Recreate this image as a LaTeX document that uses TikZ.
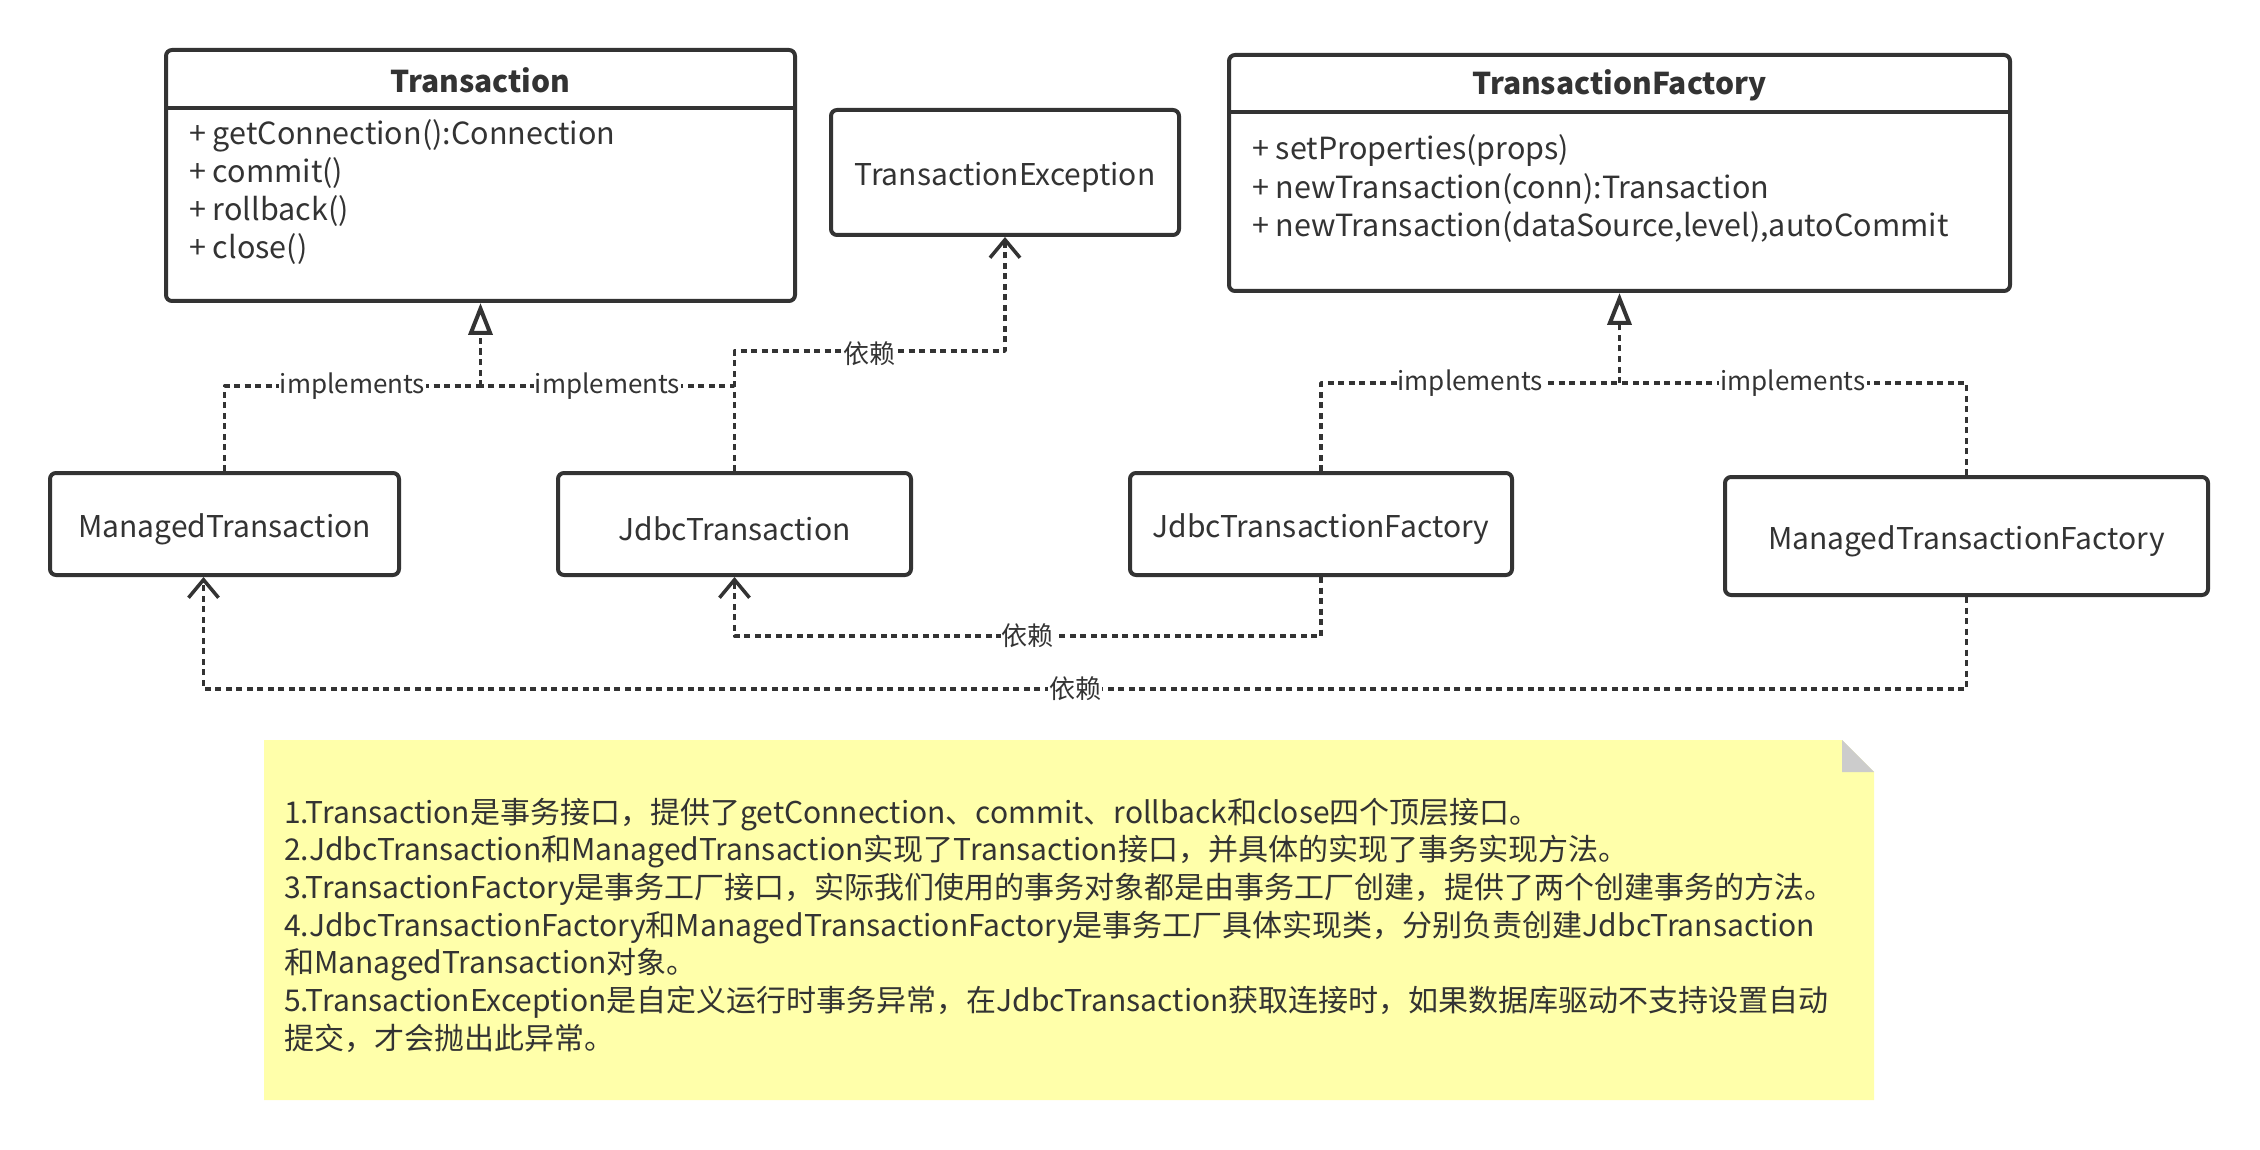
\documentclass[tikz,border=0pt]{standalone}
\usepackage{fontspec}
\setmainfont{Noto Sans CJK SC}
\usetikzlibrary{arrows.meta}

\definecolor{ink}{HTML}{333333}
\definecolor{notefill}{HTML}{FFFFAA}
\definecolor{foldgray}{HTML}{CCCCCC}

\begin{document}
\begin{tikzpicture}[x=1pt, y=-1pt, line join=round,
  classbox/.style={draw=ink, line width=4pt, rounded corners=6pt, inner sep=0pt, fill=white},
  cname/.style={inner sep=0pt, yshift=-5pt, text=ink, font=\fontsize{30}{36}\selectfont},
  ctitle/.style={inner sep=0pt, text=ink, font=\fontsize{30}{36}\selectfont\bfseries},
  member/.style={anchor=west, inner sep=0pt, text=ink, text height=22pt, text depth=6pt, font=\fontsize{30.5}{36}\selectfont},
  notetext/.style={anchor=west, inner sep=0pt, text=ink, text height=22pt, text depth=6pt, font=\fontsize{30}{36}\selectfont},
  lbl/.style={fill=white, inner sep=1pt, text=ink, font=\fontsize{26}{30}\selectfont},
  implem/.style={draw=ink, line width=3.5pt, dash pattern=on 6pt off 4.5pt},
  depend/.style={draw=ink, line width=3.5pt, dash pattern=on 6pt off 4.5pt,
    -{Straight Barb[length=18pt, width=30pt, line width=3.5pt]}},
  realize/.style={-{Triangle[open, length=32pt, width=24pt, line width=4pt, fill=white]}}]

  %% ==== interfaces ====
  \node[classbox, minimum width=629pt, minimum height=251pt] (trans) at (480.5,175.5) {};
  \draw[ink, line width=4pt] (trans.west |- 0,108) -- (trans.east |- 0,108);
  \node[ctitle] (transname) at (480.5,80) {Transaction};
  \foreach \txt [count=\i] in {{+ getConnection():Connection}, {+ commit()}, {+ rollback()}, {+ close()}}
    \node[member] (tm\i) at (189,{137+37.8*(\i-1)}) {\txt};

  \node[classbox, minimum width=348pt, minimum height=125pt] (texc) at (1005,172.5) {};
  \node[cname] (texcname) at (texc) {TransactionException};

  \node[classbox, minimum width=781pt, minimum height=236pt] (tfac) at (1619.5,173) {};
  \draw[ink, line width=4pt] (tfac.west |- 0,112) -- (tfac.east |- 0,112);
  \node[ctitle] (tfacname) at (1619.5,85) {TransactionFactory};
  \foreach \txt [count=\i] in {{+ setProperties(props)}, {+ newTransaction(conn):Transaction}, {+ newTransaction(dataSource,level),autoCommit}}
    \node[member] (fm\i) at (1252,{152+38.5*(\i-1)}) {\txt};

  %% ==== implementations ====
  \node[classbox, minimum width=349pt, minimum height=102pt] (mtrans) at (224.5,524) {};
  \node[cname] at (mtrans) {ManagedTransaction};
  \node[classbox, minimum width=353pt, minimum height=102pt] (jtrans) at (734.5,524) {};
  \node[cname] at (jtrans) {JdbcTransaction};
  \node[classbox, minimum width=382pt, minimum height=102pt] (jtfac) at (1321,524) {};
  \node[cname] at (jtfac) {JdbcTransactionFactory};
  \node[classbox, minimum width=483pt, minimum height=118pt] (mtfac) at (1966.5,536) {};
  \node[cname] at (mtfac) {ManagedTransactionFactory};

  %% ==== implements ====
  \coordinate (tjoin) at (trans.south |- 0,386);
  \draw[implem] (mtrans.north) |- node[lbl, pos=0.75] {implements} (tjoin);
  \draw[implem] (jtrans.north) |- node[lbl, pos=0.75] {implements} (tjoin);
  \draw[implem, realize] (tjoin) -- (trans.south);

  \coordinate (fjoin) at (tfac.south |- 0,383);
  \draw[implem] (jtfac.north) |- node[lbl, pos=0.75] {implements} (fjoin);
  \draw[implem] (mtfac.north) |- node[lbl, pos=0.75] {implements} (fjoin);
  \draw[implem, realize] (fjoin) -- (tfac.south);

  %% ==== 依赖 ====
  \draw[depend] (jtrans.north) -- ++(0,-120) -| node[lbl, pos=0.25, yshift=-3pt] {依赖} (texc.south);
  \draw[depend] (jtfac.south) -- ++(0,59) -| node[lbl, pos=0.25] {依赖} (jtrans.south);
  \draw[depend] (mtfac.south) -- ++(0,92) -| node[lbl, pos=0.2527] {依赖} ([xshift=-21pt]mtrans.south);

  %% ==== note ====
  \fill[notefill] (264,740) -- (1842,740) -- (1874,772) -- (1874,1100) -- (264,1100) -- cycle;
  \fill[foldgray] (1842,740) -- (1874,772) -- (1842,772) -- cycle;
  \foreach \txt [count=\i] in {
      {1.Transaction是事务接口，提供了getConnection、commit、rollback和close四个顶层接口。},
      {2.JdbcTransaction和ManagedTransaction实现了Transaction接口，并具体的实现了事务实现方法。},
      {3.TransactionFactory是事务工厂接口，实际我们使用的事务对象都是由事务工厂创建，提供了两个创建事务的方法。},
      {4.JdbcTransactionFactory和ManagedTransactionFactory是事务工厂具体实现类，分别负责创建JdbcTransaction},
      {和ManagedTransaction对象。},
      {5.TransactionException是自定义运行时事务异常，在JdbcTransaction获取连接时，如果数据库驱动不支持设置自动},
      {提交，才会抛出此异常。}}
    \node[notetext] (note\i) at (284,{815+37.7*(\i-1)}) {\txt};

  \pgfresetboundingbox
  \path[use as bounding box] (0,0) rectangle (2260,1150);
\end{tikzpicture}
\end{document}
